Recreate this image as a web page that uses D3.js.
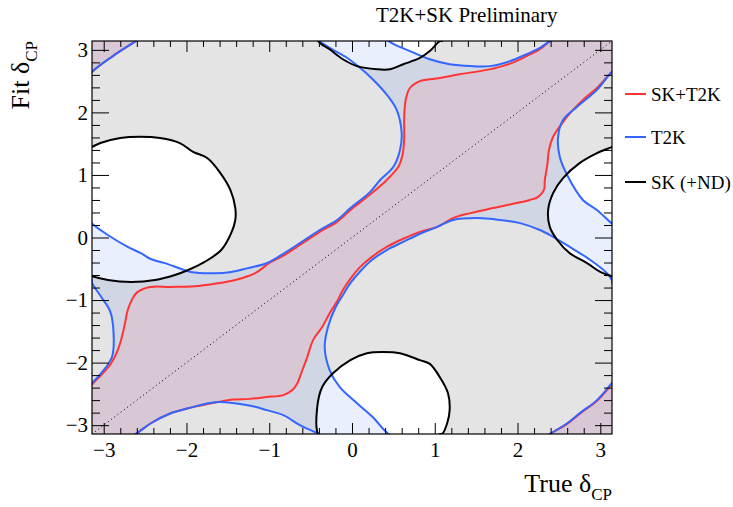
<!DOCTYPE html>
<html>
<head>
<meta charset="utf-8">
<script src="https://cdn.jsdelivr.net/npm/d3@7"></script>
<style>
body { margin: 0; background: #fff; }
svg, svg text { font-family: "Liberation Serif", "Times New Roman", serif; }
</style>
</head>
<body>
<div id="chart"></div>
<script>
// tick values
var majorTicks = [-3, -2, -1, 0, 1, 2, 3];
var legendLabels = ["SK+T2K", "T2K", "SK (+ND)"];

// contours, in (true dCP, fit dCP), in the order they are drawn
// T2K 90% region boundary around the upper-left excluded blob
var t2kHoleUpper = [
  [-3.14,0.22],[-2.95,0.04],[-2.71,-0.15],[-2.55,-0.25],[-2.44,-0.34],[-2.26,-0.41],[-2.07,-0.50],[-1.95,-0.55],
  [-1.66,-0.57],[-1.46,-0.55],[-1.26,-0.49],[-1.05,-0.42],[-0.89,-0.31],[-0.83,-0.26],[-0.63,-0.09],[-0.39,0.12],
  [-0.18,0.28],[-0.02,0.47],[0.22,0.73],[0.34,0.92],[0.50,1.13],[0.58,1.40],[0.60,1.67],[0.54,2.04],[0.44,2.25],
  [0.25,2.53],[0.10,2.71],[-0.08,2.89],[-0.27,3.03],[-0.40,3.14],
  [-0.41,-3.14],[-0.63,-3.00],[-0.83,-2.84],[-1.03,-2.76],[-1.23,-2.69],[-1.62,-2.63],[-1.98,-2.73],[-2.19,-2.81],
  [-2.43,-2.97],[-2.61,-3.14],
  [-2.63,3.14],[-2.89,2.90],[-3.14,2.65],
  [3.14,2.63],[2.96,2.36],[2.72,2.09],[2.55,1.88],[2.49,1.61],[2.51,1.29],[2.61,0.97],[2.79,0.60],[2.96,0.44],[3.14,0.23]
];
// T2K boundary around the lower-right excluded blob
var t2kHoleLower = [
  [3.14,-0.68],[3.08,-0.57],[2.88,-0.36],[2.63,-0.15],[2.43,0.01],[2.27,0.12],[2.03,0.23],[1.79,0.28],[1.51,0.31],
  [1.22,0.28],[1.03,0.17],[0.82,0.06],[0.62,-0.07],[0.42,-0.20],[0.24,-0.36],[0.10,-0.54],[-0.02,-0.73],[-0.11,-0.92],
  [-0.20,-1.12],[-0.29,-1.43],[-0.33,-1.75],[-0.27,-2.12],[-0.15,-2.39],[0.06,-2.65],[0.25,-2.87],[0.44,-3.14],
  [0.46,3.14],[0.70,2.98],[0.94,2.85],[1.18,2.77],[1.43,2.74],[1.67,2.74],[1.91,2.82],[2.11,2.93],[2.27,3.03],[2.39,3.14],
  [2.39,-3.14],[2.60,-2.97],[2.75,-2.81],[2.96,-2.60],[3.14,-2.33],
  [-3.14,-2.31],[-3.03,-2.17],[-2.90,-1.91],[-2.88,-1.56],[-2.92,-1.19],[-3.03,-0.95],[-3.14,-0.73]
];
// SK+T2K band, upper-left edge
var combinedUpper = [
  [-3.14,-2.36],[-3.03,-2.20],[-2.91,-2.01],[-2.83,-1.80],[-2.79,-1.64],[-2.74,-1.35],[-2.71,-1.16],[-2.65,-0.97],
  [-2.59,-0.87],[-2.44,-0.79],[-2.19,-0.79],[-1.90,-0.78],[-1.66,-0.74],[-1.41,-0.68],[-1.17,-0.57],[-0.99,-0.40],
  [-0.83,-0.29],[-0.63,-0.12],[-0.39,0.09],[-0.18,0.25],[0.00,0.46],[0.24,0.71],[0.42,0.92],[0.56,1.13],[0.61,1.32],
  [0.63,1.56],[0.63,1.89],[0.65,2.21],[0.70,2.39],[0.82,2.50],[1.06,2.55],[1.30,2.61],[1.63,2.68],[1.91,2.78],
  [2.11,2.90],[2.27,3.01],[2.39,3.14],
  [2.39,-3.14],[2.60,-2.98],[2.75,-2.82],[2.96,-2.61],[3.14,-2.35]
];
// SK+T2K band, lower-right edge
var combinedLower = [
  [3.14,2.63],[2.96,2.39],[2.79,2.20],[2.67,2.04],[2.54,1.83],[2.43,1.61],[2.38,1.40],[2.36,1.16],[2.33,0.92],
  [2.32,0.76],[2.25,0.65],[2.15,0.60],[1.99,0.55],[1.70,0.47],[1.43,0.39],[1.22,0.31],[1.03,0.17],[0.82,0.09],
  [0.62,-0.02],[0.42,-0.15],[0.24,-0.31],[0.10,-0.47],[-0.02,-0.66],[-0.11,-0.84],[-0.18,-1.02],[-0.27,-1.21],
  [-0.36,-1.43],[-0.47,-1.64],[-0.54,-1.91],[-0.60,-2.12],[-0.66,-2.33],[-0.72,-2.44],[-0.83,-2.52],[-1.03,-2.55],
  [-1.23,-2.58],[-1.44,-2.59],[-1.62,-2.63],[-1.98,-2.73],[-2.19,-2.81],[-2.43,-2.97],[-2.61,-3.14],
  [-2.63,3.14],[-2.89,2.90],[-3.14,2.65]
];
// SK (+ND) islands
var skLeft = [
  [-3.14,1.45],[-3.04,1.51],[-2.80,1.59],[-2.56,1.61],[-2.32,1.59],[-2.08,1.51],[-1.92,1.37],[-1.75,1.27],[-1.59,1.03],
  [-1.47,0.76],[-1.41,0.47],[-1.41,0.28],[-1.46,0.07],[-1.58,-0.20],[-1.78,-0.39],[-1.98,-0.52],[-2.14,-0.60],
  [-2.38,-0.68],[-2.67,-0.71],[-2.95,-0.68],[-3.14,-0.62],
  [3.14,-0.62],[3.00,-0.55],[2.84,-0.41],[2.63,-0.25],[2.48,-0.04],[2.39,0.17],[2.37,0.44],[2.43,0.71],[2.55,0.95],
  [2.75,1.19],[2.96,1.35],[3.14,1.43]
];
var skMid = [
  [-0.41,-3.14],[-0.42,-2.71],[-0.36,-2.39],[-0.23,-2.17],[-0.02,-1.96],[0.18,-1.85],[0.37,-1.83],[0.58,-1.85],
  [0.82,-1.96],[0.94,-2.02],[1.06,-2.23],[1.16,-2.49],[1.18,-2.76],[1.15,-2.97],[1.09,-3.14],
  [1.06,3.14],[0.94,2.98],[0.82,2.87],[0.62,2.77],[0.46,2.69],[0.30,2.69],[0.06,2.74],[-0.11,2.85],[-0.27,3.01],[-0.39,3.14]
];

var width = 733, height = 507;
var TWO_PI = 2 * Math.PI;
var serif = "'Liberation Serif', 'Times New Roman', serif";

var x = d3.scaleLinear().domain([-Math.PI, Math.PI]).range([92, 612]);
var y = d3.scaleLinear().domain([-Math.PI, Math.PI]).range([434, 41]);

// the plane is periodic in both axes: follow a contour across the edges
function unwrap(pts, closed) {
  var ox = 0, oy = 0, out = [], prev = null;
  pts.forEach(function(p) {
    if (prev) {
      var dx = p[0] - prev[0], dy = p[1] - prev[1];
      if (dx > Math.PI) ox -= TWO_PI;
      if (dx < -Math.PI) ox += TWO_PI;
      if (dy > Math.PI) oy -= TWO_PI;
      if (dy < -Math.PI) oy += TWO_PI;
    }
    out.push([p[0] + ox, p[1] + oy]);
    prev = p;
  });
  out = dedupe(out);
  if (closed && near(out[0], out[out.length - 1])) out.pop();
  return out;
}
function near(a, b) { return Math.hypot(a[0] - b[0], a[1] - b[1]) < 0.03; }
function dedupe(pts) {
  var out = [];
  pts.forEach(function(p) { if (!out.length || !near(out[out.length - 1], p)) out.push(p); });
  return out;
}
function moved(pts, s) { return pts.map(function(p) { return [p[0] + s[0], p[1] + s[1]]; }); }
// a band edge repeats every (2pi, 2pi): lay out three periods
function periodic(pts) {
  var u = unwrap(pts, false);
  var dir = u[u.length - 1][0] > u[0][0] ? 1 : -1;
  var out = [];
  [-1, 0, 1].forEach(function(k) { out = out.concat(moved(u, [k * dir * TWO_PI, k * dir * TWO_PI])); });
  return dedupe(out);
}

var shifts9 = [];
[-1, 0, 1].forEach(function(i) { [-1, 0, 1].forEach(function(j) { shifts9.push([i * TWO_PI, j * TWO_PI]); }); });
var shifts3 = [[-TWO_PI, 0], [0, 0], [TWO_PI, 0]];

var lineOpen = d3.line().x(function(d) { return x(d[0]); }).y(function(d) { return y(d[1]); })
    .curve(d3.curveCatmullRom.alpha(0.5));
var lineClosed = d3.line().x(function(d) { return x(d[0]); }).y(function(d) { return y(d[1]); })
    .curve(d3.curveCatmullRomClosed.alpha(0.5));
var lineStraight = d3.line().x(function(d) { return x(d[0]); }).y(function(d) { return y(d[1]); });

var holeA = unwrap(t2kHoleUpper, true);
var holeB = unwrap(t2kHoleLower, true);
var islandL = unwrap(skLeft, true);
var islandM = unwrap(skMid, true);
var bandUp = periodic(combinedUpper);
var bandLo = periodic(combinedLower);
var band = bandUp.concat(bandLo);

function copies(pts, shifts) { return shifts.map(function(s) { return moved(pts, s); }); }

var svg = d3.select("#chart").append("svg")
    .attr("width", width)
    .attr("height", height)
    .attr("font-family", serif)
    .style("background-color", "white");

var defs = svg.append("defs");
defs.append("clipPath").attr("id", "plotClip")
  .append("rect").attr("x", 92).attr("y", 41).attr("width", 520).attr("height", 393);

var mask = defs.append("mask").attr("id", "t2kMask")
    .attr("maskUnits", "userSpaceOnUse")
    .attr("x", 0).attr("y", 0).attr("width", width).attr("height", height);
mask.append("rect").attr("width", width).attr("height", height).attr("fill", "white");
mask.selectAll("path")
    .data(copies(holeA, shifts9).concat(copies(holeB, shifts9)))
    .enter().append("path")
    .attr("d", lineClosed)
    .attr("fill", "black");

var plot = svg.append("g").attr("clip-path", "url(#plotClip)");

// background: excluded by everything
plot.append("rect").attr("x", 92).attr("y", 41).attr("width", 520).attr("height", 393)
    .attr("fill", "#e4e4e4");

// SK allowed islands
plot.selectAll("path.skfill")
    .data(copies(islandL, shifts9).concat(copies(islandM, shifts9)))
    .enter().append("path").attr("class", "skfill")
    .attr("d", lineClosed)
    .attr("fill", "white");

// T2K allowed region
plot.append("rect").attr("x", 92).attr("y", 41).attr("width", 520).attr("height", 393)
    .attr("fill", "rgb(40,100,240)")
    .attr("fill-opacity", 0.1)
    .attr("mask", "url(#t2kMask)");

// SK+T2K band
plot.selectAll("path.bandfill")
    .data(copies(band, shifts3))
    .enter().append("path").attr("class", "bandfill")
    .attr("d", lineClosed)
    .attr("fill", "#d8c7d4");

// true = fit
plot.append("path")
    .attr("d", lineStraight([[-Math.PI, -Math.PI], [Math.PI, Math.PI]]))
    .attr("stroke", "black")
    .attr("stroke-width", 1)
    .attr("stroke-dasharray", "1,3")
    .attr("fill", "none");

plot.selectAll("path.redline")
    .data(copies(bandUp, shifts3).concat(copies(bandLo, shifts3)))
    .enter().append("path").attr("class", "redline")
    .attr("d", lineOpen)
    .attr("fill", "none")
    .attr("stroke", "#ff3535")
    .attr("stroke-width", 2);

plot.selectAll("path.blueline")
    .data(copies(holeA, shifts9).concat(copies(holeB, shifts9)))
    .enter().append("path").attr("class", "blueline")
    .attr("d", lineClosed)
    .attr("fill", "none")
    .attr("stroke", "#3366ff")
    .attr("stroke-width", 2);

plot.selectAll("path.blackline")
    .data(copies(islandL, shifts9).concat(copies(islandM, shifts9)))
    .enter().append("path").attr("class", "blackline")
    .attr("d", lineClosed)
    .attr("fill", "none")
    .attr("stroke", "black")
    .attr("stroke-width", 2);

// axes, ticks inside on all four sides
var minorTicks = d3.range(-15, 16).filter(function(k) { return k % 5 !== 0; }).map(function(k) { return k / 5; });
var fmt = d3.format("d");

function styleAxis(g) {
  g.attr("font-family", serif).attr("font-size", 21);
  g.select(".domain").remove();
  g.selectAll("line").attr("stroke", "black");
  g.selectAll("text").attr("fill", "black");
}

svg.append("g").attr("transform", "translate(0,434)")
    .call(d3.axisBottom(x).tickValues(majorTicks).tickSize(-11).tickPadding(8).tickFormat(fmt)).call(styleAxis);
svg.append("g").attr("transform", "translate(0,434)")
    .call(d3.axisBottom(x).tickValues(minorTicks).tickSize(-6).tickFormat("")).call(styleAxis);
svg.append("g").attr("transform", "translate(0,41)")
    .call(d3.axisTop(x).tickValues(majorTicks).tickSize(-11).tickFormat("")).call(styleAxis);
svg.append("g").attr("transform", "translate(0,41)")
    .call(d3.axisTop(x).tickValues(minorTicks).tickSize(-6).tickFormat("")).call(styleAxis);
svg.append("g").attr("transform", "translate(92,0)")
    .call(d3.axisLeft(y).tickValues(majorTicks).tickSize(-17).tickPadding(4).tickFormat(fmt)).call(styleAxis);
svg.append("g").attr("transform", "translate(92,0)")
    .call(d3.axisLeft(y).tickValues(minorTicks).tickSize(-8).tickFormat("")).call(styleAxis);
svg.append("g").attr("transform", "translate(612,0)")
    .call(d3.axisRight(y).tickValues(majorTicks).tickSize(-17).tickFormat("")).call(styleAxis);
svg.append("g").attr("transform", "translate(612,0)")
    .call(d3.axisRight(y).tickValues(minorTicks).tickSize(-8).tickFormat("")).call(styleAxis);

svg.append("rect").attr("x", 92).attr("y", 41).attr("width", 520).attr("height", 393)
    .attr("fill", "none").attr("stroke", "black").attr("stroke-width", 1.2);

// titles
svg.append("text").attr("x", 376).attr("y", 22)
    .attr("font-size", 21).text("T2K+SK Preliminary");

var xt = svg.append("text").attr("x", 612).attr("y", 492)
    .attr("text-anchor", "end").attr("font-size", 26).text("True δ");
xt.append("tspan").attr("dy", 8).attr("font-size", 17).text("CP");

var yt = svg.append("text").attr("transform", "translate(29,41) rotate(-90)")
    .attr("text-anchor", "end").attr("font-size", 26).text("Fit δ");
yt.append("tspan").attr("dy", 8).attr("font-size", 17).text("CP");

// legend
var legendColors = ["#ff3535", "#3366ff", "black"];
var legendY = [94, 137, 182];
var legend = svg.selectAll("g.legend")
    .data(legendLabels)
    .enter().append("g").attr("class", "legend")
    .attr("transform", function(d, i) { return "translate(0," + legendY[i] + ")"; });
legend.append("line")
    .attr("x1", 625).attr("x2", 646)
    .attr("stroke", function(d, i) { return legendColors[i]; })
    .attr("stroke-width", 2);
legend.append("text")
    .attr("x", 651).attr("y", 6.5)
    .attr("font-size", 19)
    .text(function(d) { return d; });
</script>
</body>
</html>
